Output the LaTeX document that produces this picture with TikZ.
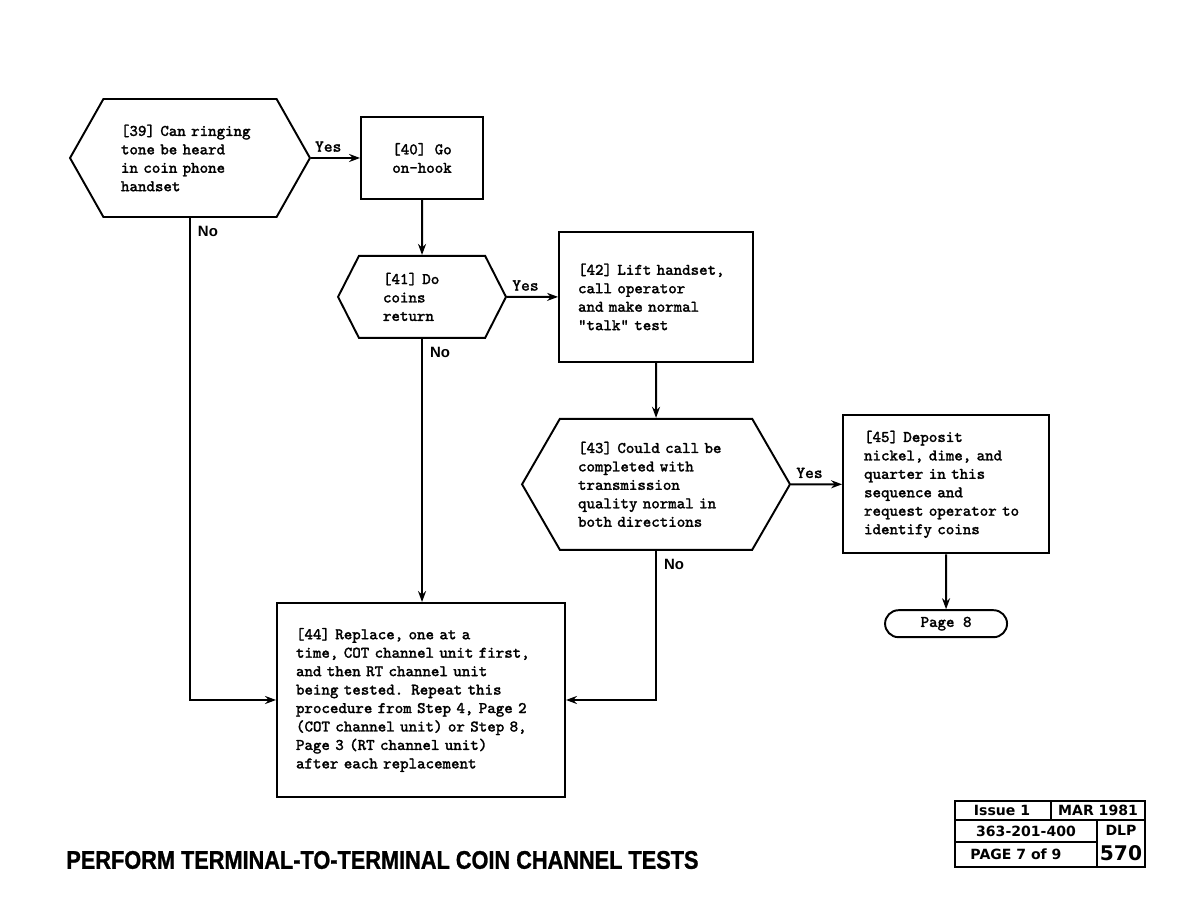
\documentclass[tikz,border=0pt]{standalone}
\usepackage{fontspec}
\usepackage{graphicx}
\setmainfont{Liberation Serif}
\setsansfont{Liberation Sans}
\newfontfamily\tablefont{DejaVu Sans}
\newfontfamily\boxfont{Latin Modern Mono}[FakeBold=1.6]
\newfontfamily\titlefont{Liberation Sans}[UprightFont={* Bold}, FakeBold=1.2]
\usetikzlibrary{shapes.symbols,shapes.misc,arrows.meta,positioning}

\begin{document}
\begin{tikzpicture}[
      x=0.02cm, y=-0.02cm,
      node distance=1.1cm and 1.02cm,
      box/.style={rectangle, draw, line width=1.1pt, align=left, inner sep=0pt, font=\boxfont\fontsize{9.2}{10.5}\selectfont},
      decision/.style={signal, signal to=east and west, draw, line width=1.1pt, align=left, inner sep=0pt, font=\boxfont\fontsize{9.2}{10.5}\selectfont},
      terminal/.style={rounded rectangle, draw, line width=1.1pt, inner sep=0pt, font=\boxfont\fontsize{9.2}{10.5}\selectfont},
      arrow/.style={-{Stealth[length=2.2mm,width=1.6mm]}, line width=1.1pt},
      yes/.style={above, inner sep=3pt, font=\boxfont\fontsize{9.5}{10}\selectfont},
      no/.style={anchor=north west, inner sep=4pt, font=\sffamily\bfseries\fontsize{8.5}{10}\selectfont},
      tbl/.style={line width=1.1pt},
      tbltext/.style={font=\tablefont\bfseries\fontsize{8}{9}\selectfont, inner sep=0pt}
    ]
    \useasboundingbox (0,0) rectangle (1188,918);

    % ============ FIRST CHECKS ============
    \node[decision, signal pointer angle=121, minimum width=4.8cm, minimum height=2.36cm, text width=2.76cm] (q39) at (190,158) {[39] Can ringing\\tone be heard\\in coin phone\\handset};
    \node[box, right=0.98cm of q39, minimum width=2.44cm, minimum height=1.64cm, align=center] (b40) {[40] Go\\on-hook};

    \node[decision, signal pointer angle=126, below=of b40, minimum width=3.36cm, minimum height=1.64cm, text width=1.56cm] (q41) {[41] Do\\coins\\return};
    \node[box, right=of q41, minimum width=3.88cm, minimum height=2.6cm, text width=3.12cm] (b42) {[42] Lift handset,\\call operator\\and make normal\\"talk" test};

    % ============ CALL QUALITY ============
    \node[decision, signal pointer angle=120, below=of b42, minimum width=5.36cm, minimum height=2.62cm, text width=3.12cm] (q43) {[43] Could call be\\completed with\\transmission\\quality normal in\\both directions};
    \node[box, right=of q43, minimum width=4.12cm, minimum height=2.76cm, text width=3.28cm] (b45) {[45] Deposit\\nickel, dime, and\\quarter in this\\sequence and\\request operator to\\identify coins};
    \node[terminal, below=of b45, minimum width=2.44cm, minimum height=0.54cm] (p8) {Page 8};

    % Replacement step
    \node[box, minimum width=5.76cm, minimum height=3.88cm, text width=5cm] (b44) at (421,700) {[44] Replace, one at a\\time, COT channel unit first,\\and then RT channel unit\\being tested. Repeat this\\procedure from Step 4, Page 2\\(COT channel unit) or Step 8,\\Page 3 (RT channel unit)\\after each replacement};

    % Arrows
    \draw[arrow] (q39) -- node[yes, pos=0.35] {Yes} (b40);
    \draw[arrow] (b40) -- (q41);
    \draw[arrow] (q41) -- node[yes, pos=0.36] {Yes} (b42);
    \draw[arrow] (b42) -- (q43);
    \draw[arrow] (q43) -- node[yes, pos=0.36] {Yes} (b45);
    \draw[arrow] (b45) -- (p8);
    \draw[arrow] (q39.south) |- node[no, pos=0] {No} (b44.west);
    \draw[arrow] (q41.south) -- node[no, pos=0] {No} (q41.south |- b44.north);
    \draw[arrow] (q43.south) |- node[no, pos=0] {No} (b44.east);

    % ============ TITLE AND PAGE BLOCK ============
    \node[anchor=west, inner sep=0pt, font=\titlefont\fontsize{14.5}{16}\selectfont] (title) at (66,860) {\scalebox{0.853}[1]{PERFORM TERMINAL-TO-TERMINAL COIN CHANNEL TESTS}};

    \draw[tbl] (955,801) rectangle (1145,867);
    \draw[tbl] (955,820) -- (1145,820);
    \draw[tbl] (1051,801) -- (1051,820);
    \draw[tbl] (1097,820) -- (1097,867);
    \draw[tbl] (955,842) -- (1097,842);
    \node[tbltext] (issue) at (1002,810.5) {Issue 1};
    \node[tbltext] (date) at (1098,810.5) {MAR 1981};
    \node[tbltext] (docno) at (1026,831) {363-201-400};
    \node[tbltext] (dlp) at (1121,830) {DLP};
    \node[tbltext] (pageno) at (1016,854.5) {PAGE 7 of 9};
    \node[tbltext, font=\tablefont\bfseries\fontsize{11.5}{12}\selectfont] (num) at (1121,853) {570};

  \end{tikzpicture}
\end{document}
